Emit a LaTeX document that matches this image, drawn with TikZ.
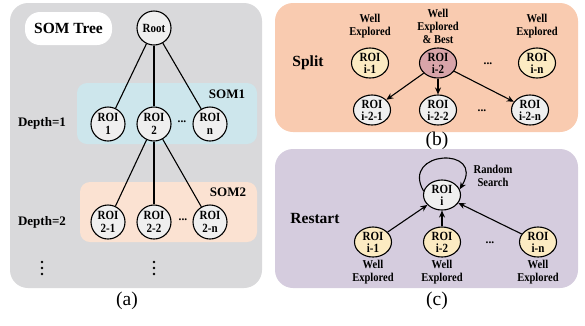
\documentclass[tikz,border=0pt]{standalone}
\usepackage{fontspec}
\setmainfont{Liberation Serif}
\newfontfamily\cfont[FakeStretch=0.88]{Liberation Serif}
\usetikzlibrary{shapes.geometric,arrows.meta}
\definecolor{panelA}{HTML}{D9D9DB}
\definecolor{somone}{HTML}{CDE6EC}
\definecolor{somtwo}{HTML}{FBE2D2}
\definecolor{panelB}{HTML}{F9CBB0}
\definecolor{panelC}{HTML}{D5CCDE}
\definecolor{nodegray}{HTML}{EFEFEF}
\definecolor{nodeyel}{HTML}{FCEBC2}
\definecolor{nodepink}{HTML}{D8A4A9}
\tikzset{
  roicirc/.style={circle,draw=black,line width=1.1pt,fill=nodegray,minimum size=34pt,inner sep=0pt,align=center,font=\cfont\bfseries\fontsize{12.5}{12.5}\selectfont},
  roiell/.style={ellipse,draw=black,line width=1.1pt,minimum width=37pt,minimum height=30pt,inner sep=0pt,align=center,font=\cfont\bfseries\fontsize{12.5}{12}\selectfont},
  lbl/.style={font=\bfseries\fontsize{13}{14}\selectfont,inner sep=0pt},
  biglbl/.style={font=\bfseries\fontsize{15.5}{17}\selectfont,inner sep=0pt},
  smalltxt/.style={font=\cfont\bfseries\fontsize{12}{13}\selectfont,align=center,inner sep=0pt},
  captxt/.style={font=\fontsize{19.5}{20}\selectfont,inner sep=0pt},
  dotsl/.style={font=\bfseries\fontsize{11.5}{12}\selectfont,inner sep=0pt},
  vdot/.style={circle,fill=black,inner sep=0pt,minimum size=2.8pt},
  conn/.style={line width=1.1pt},
  arr/.style={line width=1.1pt,-{Stealth[length=7pt,width=6pt]}},
}
\begin{document}
\begin{tikzpicture}[x=1pt,y=-1pt]
\useasboundingbox (0,0) rectangle (585,325);
% panel a
\fill[panelA,rounded corners=18pt] (10,3) rectangle (262,288);
\fill[white,rounded corners=15pt] (25,12) rectangle (112,45);
\node[biglbl] (somtree) at (68.5,28.5) {SOM Tree};
\fill[somone,rounded corners=10pt] (77,83) rectangle (257,144);
\fill[somtwo,rounded corners=10pt] (80,182) rectangle (257,242);
\node[lbl] (som1) at (227,94) {SOM1};
\node[lbl] (som2) at (228,192) {SOM2};
\node[lbl] (d1) at (42,123) {Depth=1};
\node[lbl] (d2) at (42,222) {Depth=2};
\node[roicirc] (root) at (154,28) {Root};
\node[roicirc] (r1) at (108,124) {ROI\\1};
\node[roicirc] (r2) at (154,124) {ROI\\2};
\node[dotsl] (rd) at (182,122) {...};
\node[roicirc] (rn) at (210,124) {ROI\\n};
\node[roicirc] (r21) at (108,222) {ROI\\2-1};
\node[roicirc] (r22) at (154,222) {ROI\\2-2};
\node[dotsl] (r2d) at (183,220) {...};
\node[roicirc] (r2n) at (210,222) {ROI\\2-n};
\draw[conn] (root) -- (r1);
\draw[conn] (root) -- (r2);
\draw[conn] (root) -- (rn);
\draw[conn] (r2) -- (r21);
\draw[conn] (r2) -- (r22);
\draw[conn] (r2) -- (r2n);
\foreach \yy in {262,268,274} {
  \node[vdot] at (42,\yy) {};
  \node[vdot] at (154,\yy) {};
}
\node[captxt] (capa) at (127,301) {(a)};
% panel b
\fill[panelB,rounded corners=18pt] (275,3) rectangle (578,132);
\node[biglbl] (split) at (308,63) {Split};
\node[roiell,fill=nodeyel] (b1) at (370,63) {ROI\\i-1};
\node[roiell,fill=nodepink] (b2) at (438,63) {ROI\\i-2};
\node[dotsl] (bd) at (488,64) {...};
\node[roiell,fill=nodeyel] (bn) at (537,63) {ROI\\i-n};
\node[smalltxt] (wb1) at (370,26.5) {Well\\Explored};
\node[smalltxt] (wb2) at (438,26.5) {Well\\Explored\\\& Best};
\node[smalltxt] (wbn) at (537,26.5) {Well\\Explored};
\node[roiell,fill=nodegray] (b21) at (372,110) {ROI\\i-2-1};
\node[roiell,fill=nodegray] (b22) at (438,110) {ROI\\i-2-2};
\node[dotsl] (b2d) at (482,111) {...};
\node[roiell,fill=nodegray] (b2n) at (530,110) {ROI\\i-2-n};
\draw[arr] (b2) -- (b21);
\draw[arr] (b2) -- (b22);
\draw[arr] (b2) -- (b2n);
\node[captxt] (capb) at (437,141) {(b)};
% panel c
\fill[panelC,rounded corners=18pt] (275,149) rectangle (578,288);
\node[biglbl] (restart) at (315,218) {Restart};
\node[roiell,fill=nodegray] (ci) at (442,195) {ROI\\i};
\node[roiell,fill=nodeyel] (c1) at (373,242) {ROI\\i-1};
\node[roiell,fill=nodeyel] (c2) at (442,242) {ROI\\i-2};
\node[dotsl] (cd) at (490,243) {...};
\node[roiell,fill=nodeyel] (cn) at (538,242) {ROI\\i-n};
\node[smalltxt] (wc1) at (373,272.5) {Well\\Explored};
\node[smalltxt] (wc2) at (442,272.5) {Well\\Explored};
\node[smalltxt] (wcn) at (538,272.5) {Well\\Explored};
\node[smalltxt] (rs) at (493,175.5) {Random\\Search};
\draw[arr] (c1) -- (ci);
\draw[arr] (c2) -- (ci);
\draw[arr] (cn) -- (ci);
\draw[arr] (ci.168) .. controls (400,150) and (486,146) .. (ci.18);
\node[captxt] (capc) at (437,301) {(c)};
\end{tikzpicture}
\end{document}
